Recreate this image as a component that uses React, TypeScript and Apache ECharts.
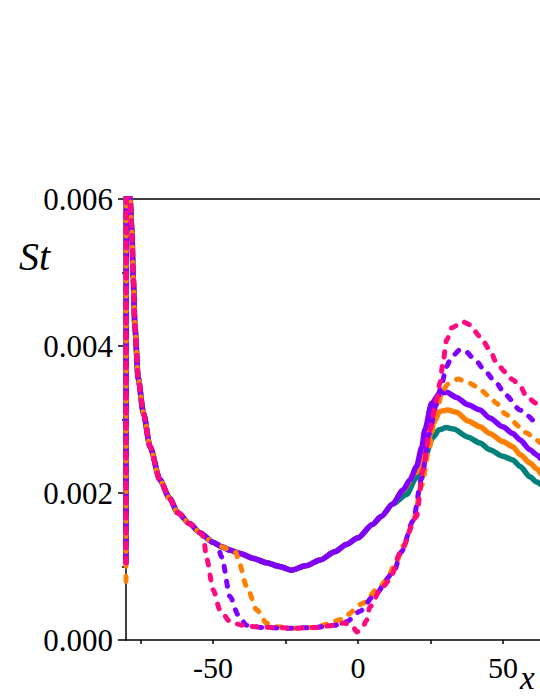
import React, { useEffect, useRef } from "react";
import * as echarts from "echarts";

// Shared leading-edge / upstream part (x, St)
const leadingEdge: number[][] = [
  [-79.8, 0.0095], [-79.3, 0.0072], [-78.6, 0.006], [-78.0, 0.0056], [-77.5, 0.00492],
  [-76.9, 0.00424], [-75.8, 0.00356], [-74.0, 0.00309], [-71.7, 0.00263], [-68.3, 0.00218],
  [-65.0, 0.00193], [-62.1, 0.00173], [-58.0, 0.00158], [-54.5, 0.00146],
];
// Turbulent middle part shared by the solid curves
const turbulentMid: number[][] = [
  [-50, 0.00133], [-47, 0.00127], [-44, 0.00122], [-41, 0.00118], [-36, 0.00111],
  [-31.5, 0.00105], [-27, 0.001], [-23, 0.00095], [-18, 0.00101], [-13, 0.00109],
  [-8, 0.0012], [-4, 0.0013], [0, 0.00139], [5, 0.00157], [8, 0.00168], [12, 0.00185],
];
const tealTail: number[][] = [
  [16.8, 0.00198], [20, 0.0022], [23, 0.00248], [25.9, 0.00276], [28, 0.00286],
  [30.5, 0.00289], [33, 0.00287], [38, 0.00276], [42.1, 0.00268], [45.5, 0.00259],
  [50, 0.0025], [53.4, 0.00245], [56, 0.00236], [59.3, 0.00222], [61.6, 0.00215], [63, 0.00212],
];
const orangeTail: number[][] = [
  [15.5, 0.00204], [20, 0.00228], [23.7, 0.00263], [26, 0.00295], [28.3, 0.00311],
  [31, 0.00313], [34, 0.0031], [38, 0.00298], [42.1, 0.0029], [45.5, 0.00281],
  [50, 0.0027], [53.4, 0.00263], [56, 0.00252], [59.3, 0.00241], [61.6, 0.00233], [63, 0.00227],
];
const purpleTail: number[][] = [
  [15.5, 0.00204], [18, 0.00218], [20.2, 0.00236], [22, 0.00262], [23.1, 0.00286],
  [25.4, 0.00322], [28.3, 0.00336], [30.6, 0.00337], [34, 0.0033], [38, 0.0032],
  [42.1, 0.00313], [45.5, 0.00302], [50, 0.0029], [53.4, 0.00281], [56, 0.00272],
  [59.3, 0.00259], [61.6, 0.00252], [63, 0.00247],
];
const orangeDashed: number[][] = [
  [-80, 0.0008], ...leadingEdge, [-50, 0.00133], [-47, 0.00127], [-44, 0.00122], [-42, 0.00119],
  [-41.3, 0.00109], [-38.4, 0.00073], [-34.9, 0.00041], [-31.5, 0.00023], [-28, 0.00018],
  [-22, 0.00016], [-15, 0.00017], [-10, 0.00022], [-6, 0.00028], [-3.9, 0.00034],
  [1.7, 0.0005], [7.6, 0.00073], [9.9, 0.00082], [13, 0.00105], [16, 0.0013], [19, 0.0016],
  [22, 0.0021], [24.5, 0.0026], [27, 0.0031], [29.3, 0.0034], [31, 0.00348], [34.6, 0.00355],
  [38, 0.0035], [40.9, 0.00345], [45.5, 0.00331], [47.8, 0.00322], [51, 0.00307],
  [55.9, 0.0029], [58, 0.00282], [61.6, 0.00272], [63, 0.00268],
];
const purpleDashed: number[][] = [
  [-80, 0.00105], ...leadingEdge, [-50, 0.00133], [-48.5, 0.0013], [-47, 0.00113],
  [-44.1, 0.00059], [-41.3, 0.00034], [-38.4, 0.0002], [-33, 0.00017], [-25, 0.00016],
  [-15, 0.00017], [-8, 0.0002], [-3.9, 0.00025], [0.7, 0.00039], [5.2, 0.00059],
  [12.2, 0.00091], [15, 0.0012], [19, 0.00162], [22, 0.0022], [24.5, 0.0028], [27, 0.0032],
  [29, 0.0035], [30.5, 0.00372], [32.3, 0.00385], [35.2, 0.00395], [37, 0.00393],
  [40.9, 0.00379], [44, 0.00365], [47.8, 0.00349], [51, 0.00333], [55.9, 0.00313],
  [58.5, 0.00305], [61.6, 0.00295], [63, 0.00292],
];
const pinkDashed: number[][] = [
  [-80, 0.00105], ...leadingEdge, [-53.3, 0.00141], [-52.2, 0.00111], [-49.9, 0.00068],
  [-47.6, 0.00041], [-44.1, 0.00025], [-40, 0.0002], [-35, 0.00018], [-28, 0.00017],
  [-22, 0.00016], [-15, 0.00017], [-8, 0.0002], [-5, 0.00023], [-2, 0.0002], [-0.4, 0.00011],
  [1.7, 0.00018], [3.0, 0.00027], [4.1, 0.00045], [8, 0.0007], [11, 0.00082], [14.5, 0.00118],
  [20.2, 0.00168], [22.4, 0.00231], [24.8, 0.00286], [27.1, 0.00327], [28.3, 0.0035],
  [29.3, 0.00377], [30.6, 0.00408], [32.4, 0.00425], [36.2, 0.00433], [38.6, 0.00429],
  [42.1, 0.00413], [45.5, 0.00395], [47.8, 0.00377], [50.7, 0.00365], [53.4, 0.00354],
  [56, 0.00345], [58.2, 0.00331], [61.6, 0.00322], [63, 0.00313],
];
const tealSolid: number[][] = [[-80, 0.00105], ...leadingEdge, ...turbulentMid, ...tealTail];
const orangeSolid: number[][] = [[-80, 0.00105], ...leadingEdge, ...turbulentMid, ...orangeTail];
const purpleSolid: number[][] = [[-80, 0.00105], ...leadingEdge, ...turbulentMid, ...purpleTail];

const xTicks = [-75, -50, -25, 0, 25, 50];
const xLabels = [-50, 0, 50];

const FONT = "Liberation Serif";

export default function App() {
  const ref = useRef<HTMLDivElement>(null);
  useEffect(() => {
    const chart = echarts.init(ref.current!, null, { renderer: "svg" });
    const solid = (name: string, color: string, data: number[][]) => ({
      name, type: "line", data, showSymbol: false, symbol: "none",
      smooth: 0.25, smoothMonotone: "x",
      lineStyle: { color, width: 5.5, cap: "round", join: "round" },
      z: 2,
    });
    const dashed = (name: string, color: string, data: number[][]) => ({
      name, type: "line", data, showSymbol: false, symbol: "none",
      smooth: 0.25, smoothMonotone: "x",
      lineStyle: { color, width: 5, type: [5, 10], cap: "round", join: "round" },
      z: 3,
    });
    chart.setOption({
      animation: false,
      backgroundColor: "#ffffff",
      grid: { left: 126, top: 199, right: 0, bottom: 59 },
      xAxis: [
        {
          type: "value", min: -80, max: 62.8,
          axisLine: { show: true, onZero: false, lineStyle: { color: "#000", width: 1.5 } },
          axisTick: { show: true, length: 4, customValues: xTicks, lineStyle: { color: "#000", width: 1.5 } },
          axisLabel: { customValues: xLabels, fontFamily: FONT, fontSize: 30, color: "#000", margin: 12 },
          splitLine: { show: false },
        },
        {
          type: "value", min: -80, max: 62.8, position: "top",
          axisLine: { show: true, onZero: false, lineStyle: { color: "#000", width: 1.5 } },
          axisTick: { show: false }, axisLabel: { show: false }, splitLine: { show: false },
        },
      ],
      yAxis: {
        type: "value", min: 0, max: 0.006, interval: 0.002,
        axisLine: { show: true, onZero: false, lineStyle: { color: "#000", width: 1.5 } },
        axisTick: { show: true, length: 8, lineStyle: { color: "#000", width: 1.5 } },
        minorTick: { show: true, splitNumber: 2, length: 4, lineStyle: { color: "#000", width: 1.5 } },
        axisLabel: {
          fontFamily: FONT, fontSize: 31, color: "#000", margin: 13,
          formatter: (v: number) => v.toFixed(3),
        },
        splitLine: { show: false },
      },
      graphic: [
        { type: "text", left: 19, top: 236, style: { text: "St", font: `italic 40px "${FONT}"`, fill: "#000" } },
        { type: "text", left: 520, top: 661, style: { text: "x", font: `italic 33px "${FONT}"`, fill: "#000" } },
      ],
      series: [
        solid("teal", "#00807a", tealSolid),
        solid("orange", "#ff8000", orangeSolid),
        solid("purple", "#8000ff", purpleSolid),
        dashed("orange dashed", "#ff8000", orangeDashed),
        dashed("purple dashed", "#8000ff", purpleDashed),
        dashed("pink dashed", "#ff0a80", pinkDashed),
      ],
    });
    return () => chart.dispose();
  }, []);
  return <div ref={ref} style={{ position: "absolute", left: 0, top: 0, width: 540, height: 699 }} />;
}
